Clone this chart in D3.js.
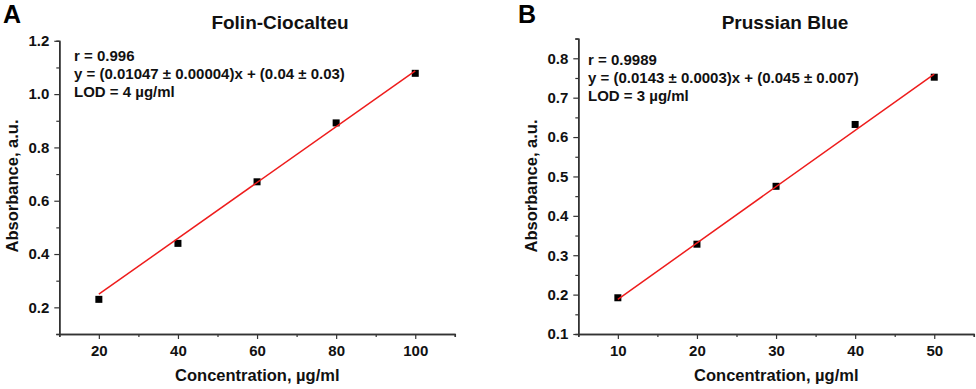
<!DOCTYPE html>
<html>
<head>
<meta charset="utf-8">
<script src="https://cdn.jsdelivr.net/npm/d3@7"></script>
<style>
  body { margin: 0; background: #fff; }
  svg { font-family: "Liberation Sans", Arial, sans-serif; font-weight: bold; }
</style>
</head>
<body>
<div id="chart"></div>
<script>
// Panel A: Folin-Ciocalteu
var concA = [20, 40, 60, 80, 100];
var absA = [0.23, 0.44, 0.671, 0.892, 1.078];
var errA = [0.012, 0.008, 0.006, 0.006, 0.006];
var fitA = [0.01047, 0.04];
var textA = ["r = 0.996", "y = (0.01047 \u00b1 0.00004)x + (0.04 \u00b1 0.03)", "LOD = 4 \u00b5g/ml"];
var yTicksA = [0.2, 0.4, 0.6, 0.8, 1.0, 1.2];
var xTicksA = [20, 40, 60, 80, 100];

// Panel B: Prussian Blue
var concB = [10, 20, 30, 40, 50];
var absB = [0.192, 0.328, 0.475, 0.632, 0.752];
var errB = [0.004, 0.004, 0.004, 0.004, 0.004];
var fitB = [0.0143, 0.045];
var textB = ["r = 0.9989", "y = (0.0143 \u00b1 0.0003)x + (0.045 \u00b1 0.007)", "LOD = 3 \u00b5g/ml"];
var yTicksB = [0.1, 0.2, 0.3, 0.4, 0.5, 0.6, 0.7, 0.8];
var xTicksB = [10, 20, 30, 40, 50];

var svg = d3.select("#chart").append("svg")
    .attr("width", 976)
    .attr("height", 389);

function drawPanel(cfg) {
  var x = d3.scaleLinear().domain(cfg.xDomain).range([cfg.left, cfg.left + 395.5]);
  var y = d3.scaleLinear().domain(cfg.yDomain).range([334, cfg.top]);
  var g = svg.append("g");

  // minor ticks first, then major axis on top
  g.append("g").attr("transform", "translate(0,334)")
    .call(d3.axisBottom(x).tickValues(cfg.xMinor).tickSize(3).tickFormat(""));
  g.append("g").attr("transform", "translate(" + cfg.left + ",0)")
    .call(d3.axisLeft(y).tickValues(cfg.yMinor).tickSize(3).tickFormat(""));

  g.append("g").attr("transform", "translate(0,334)")
    .call(d3.axisBottom(x).tickValues(cfg.xTicks).tickSize(5).tickPadding(6).tickSizeOuter(0)
      .tickFormat(d3.format("d")));
  g.append("g").attr("transform", "translate(" + cfg.left + ",0)")
    .call(d3.axisLeft(y).tickValues(cfg.yTicks).tickSize(5).tickPadding(5).tickSizeOuter(0)
      .tickFormat(d3.format(".1f")));

  g.selectAll(".domain").attr("stroke", "#333").attr("stroke-width", 1.5);
  g.selectAll(".tick line").attr("stroke", "#333").attr("stroke-width", 1.2);
  g.selectAll(".tick text")
    .attr("fill", "#111")
    .style("font-size", "15px")
    .style("font-weight", "bold")
    .style("font-family", "'Liberation Sans', Arial, sans-serif");

  // error bars
  g.selectAll(".err").data(cfg.conc).enter().append("line")
    .attr("x1", function(d) { return x(d); })
    .attr("x2", function(d) { return x(d); })
    .attr("y1", function(d, i) { return y(cfg.abs[i] - cfg.err[i]); })
    .attr("y2", function(d, i) { return y(cfg.abs[i] + cfg.err[i]); })
    .attr("stroke", "#999").attr("stroke-width", 1);

  // markers
  g.selectAll(".pt").data(cfg.conc).enter().append("rect")
    .attr("x", function(d) { return x(d) - 3.5; })
    .attr("y", function(d, i) { return y(cfg.abs[i]) - 3.5; })
    .attr("width", 7).attr("height", 7)
    .attr("fill", "#000");

  // fitted line
  var x0 = d3.min(cfg.conc), x1 = d3.max(cfg.conc);
  g.append("line")
    .attr("x1", x(x0)).attr("y1", y(cfg.fit[0] * x0 + cfg.fit[1]))
    .attr("x2", x(x1)).attr("y2", y(cfg.fit[0] * x1 + cfg.fit[1]))
    .attr("stroke", "#ee1c1c").attr("stroke-width", 1.5);

  // annotation
  g.selectAll(".ann").data(cfg.text).enter().append("text")
    .attr("x", cfg.annX)
    .attr("y", function(d, i) { return cfg.annY + i * 18; })
    .style("font-size", "15px")
    .attr("fill", "#111")
    .text(function(d) { return d; });

  // title
  g.append("text").attr("x", cfg.titleX).attr("y", 29)
    .attr("text-anchor", "middle").style("font-size", "19px").attr("fill", "#111")
    .text(cfg.title);

  // panel letter
  g.append("text").attr("x", cfg.letterX).attr("y", 23)
    .style("font-size", "25px").attr("fill", "#000")
    .text(cfg.letter);

  // axis labels
  g.append("text").attr("x", cfg.left + 198).attr("y", 381)
    .attr("text-anchor", "middle").style("font-size", "16.5px").attr("fill", "#111")
    .text("Concentration, \u00b5g/ml");
  g.append("text")
    .attr("transform", "translate(" + (cfg.left - 41) + ",186) rotate(-90)")
    .attr("text-anchor", "middle").style("font-size", "16.5px").attr("fill", "#111")
    .text("Absorbance, a.u.");
}

drawPanel({
  left: 59.3, top: 40.8,
  xDomain: [10, 110], yDomain: [0.1, 1.2],
  xTicks: xTicksA, yTicks: yTicksA,
  xMinor: [10, 30, 50, 70, 90, 110], yMinor: [0.1, 0.3, 0.5, 0.7, 0.9, 1.1],
  conc: concA, abs: absA, err: errA, fit: fitA, text: textA,
  annX: 74, annY: 61, titleX: 280, letterX: 3, letter: "A",
  title: "Folin-Ciocalteu"
});

drawPanel({
  left: 578.3, top: 38.6,
  xDomain: [5, 55], yDomain: [0.1, 0.85],
  xTicks: xTicksB, yTicks: yTicksB,
  xMinor: [5, 15, 25, 35, 45, 55], yMinor: [0.15, 0.25, 0.35, 0.45, 0.55, 0.65, 0.75, 0.85],
  conc: concB, abs: absB, err: errB, fit: fitB, text: textB,
  annX: 588, annY: 65, titleX: 785, letterX: 518, letter: "B",
  title: "Prussian Blue"
});
</script>
</body>
</html>
